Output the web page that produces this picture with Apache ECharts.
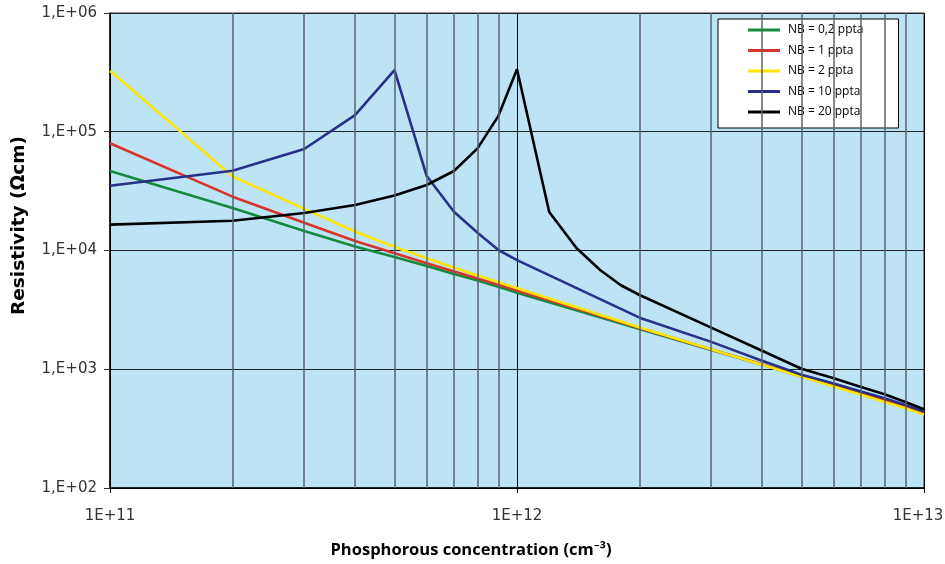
<!DOCTYPE html>
<html>
<head>
<meta charset="utf-8">
<script src="https://cdn.jsdelivr.net/npm/echarts@6/dist/echarts.min.js"></script>
<style>
html,body{margin:0;padding:0;background:#fff;}
#chart{width:945px;height:564px;}
</style>
</head>
<body>
<div id="chart"></div>
<script>
// Phosphorous concentration (cm-3)
const xStd = [1e11, 2e11, 3e11, 4e11, 5e11, 6e11, 7e11, 8e11, 9e11, 1e12,
              2e12, 3e12, 4e12, 5e12, 6e12, 7e12, 8e12, 9e12, 1e13];
const xBlack = [1e11, 2e11, 3e11, 4e11, 5e11, 6e11, 7e11, 8e11, 9e11, 1e12,
                1.2e12, 1.4e12, 1.6e12, 1.8e12,
                2e12, 3e12, 4e12, 5e12, 6e12, 7e12, 8e12, 9e12, 1e13];
const minorX = [2e11, 3e11, 4e11, 5e11, 6e11, 7e11, 8e11, 9e11,
                2e12, 3e12, 4e12, 5e12, 6e12, 7e12, 8e12, 9e12];

// Resistivity (Ohm cm)
const nb02 = [46700, 22800, 14600, 10800, 8800, 7400, 6350, 5600, 4950, 4400,
              2180, 1450, 1090, 870, 725, 625, 545, 485, 430];
const nb1  = [80000, 28400, 17100, 12000, 9500, 7800, 6650, 5800, 5150, 4600,
              2220, 1470, 1100, 875, 728, 625, 545, 485, 428];
const nb2  = [325000, 41900, 22400, 14400, 10700, 8600, 7150, 6150, 5400, 4800,
              2250, 1470, 1090, 865, 715, 610, 530, 470, 415];
const nb10 = [35100, 47000, 71600, 138000, 331000, 42400, 21200, 14100, 10100, 8300,
              2720, 1700, 1180, 900, 760, 650, 570, 500, 440];
const nb20 = [16500, 17800, 20700, 24200, 29000, 35600, 46700, 72500, 136000, 336000,
              21100, 10500, 6850, 5100, 4220,
              2240, 1430, 1010, 840, 710, 615, 530, 460];

const names = ['NB = 0,2 ppta', 'NB = 1 ppta', 'NB = 2 ppta', 'NB = 10 ppta', 'NB = 20 ppta'];
const colors = ['#138a3c', '#d9342b', '#ffe600', '#28318a', '#000000'];

function pairs(xs, ys) { return xs.map((x, i) => [x, ys[i]]); }
const seriesData = [pairs(xStd, nb02), pairs(xStd, nb1), pairs(xStd, nb2), pairs(xStd, nb10), pairs(xBlack, nb20)];

const font = 'Open Sans, Noto Sans, DejaVu Sans, sans-serif';
const wide = 'DejaVu Sans, Verdana, sans-serif';
const chart = echarts.init(document.getElementById('chart'));

const series = [{
  type: 'line',
  name: 'grid',
  data: [],
  z: 1,
  silent: true,
  markLine: {
    silent: true,
    symbol: ['none', 'none'],
    animation: false,
    label: {show: false},
    lineStyle: {color: '#56646e', width: 1.5, type: 'solid'},
    data: minorX.map(v => ({xAxis: v}))
  }
}];
names.forEach((n, i) => {
  series.push({
    type: 'line',
    name: n,
    data: seriesData[i],
    showSymbol: false,
    symbol: 'none',
    z: 3,
    color: colors[i],
    lineStyle: {color: colors[i], width: 2.6},
    animation: false
  });
});

chart.setOption({
  animation: false,
  textStyle: {fontFamily: font},
  grid: {
    left: 110, right: 21, top: 13, bottom: 76,
    outerBoundsMode: 'none',
    containLabel: false,
    show: true,
    backgroundColor: '#bde4f5',
    borderColor: '#333',
    borderWidth: 1
  },
  legend: {
    data: names,
    orient: 'vertical',
    left: 718,
    top: 19,
    padding: [5, 35, 10, 30],
    itemGap: 8.5,
    itemWidth: 32,
    itemHeight: 3,
    icon: 'rect',
    backgroundColor: '#ffffff',
    borderColor: '#000',
    borderWidth: 1,
    borderRadius: 0,
    textStyle: {fontFamily: font, fontSize: 12, color: '#000', padding: [0, 0, 0, 3]}
  },
  xAxis: {
    type: 'log',
    logBase: 10,
    min: 1e11,
    max: 1e13,
    name: 'Phosphorous concentration (cm⁻³)',
    nameLocation: 'middle',
    nameGap: 54,
    nameTextStyle: {fontFamily: font, fontSize: 16.5, fontWeight: 'bold', color: '#000', padding: [0, 92, 0, 0]},
    axisLine: {show: true, lineStyle: {color: '#000', width: 1.5}},
    axisTick: {show: true, length: 5, lineStyle: {color: '#000'}},
    axisLabel: {
      fontFamily: wide, fontSize: 15, color: '#333', margin: 21,
      formatter: v => {
        const e = Math.round(Math.log10(v));
        return e === 13 ? '{last|1E+' + e + '}' : '1E+' + e;
      },
      rich: {
        last: {fontFamily: wide, fontSize: 15, color: '#333', padding: [0, 12, 0, 0]}
      }
    },
    splitLine: {show: true, lineStyle: {color: '#000', width: 1}},
    minorTick: {show: false},
    minorSplitLine: {show: false}
  },
  yAxis: {
    type: 'log',
    logBase: 10,
    min: 100,
    max: 1e6,
    name: 'Resistivity (Ωcm)',
    nameLocation: 'middle',
    nameGap: 81,
    nameTextStyle: {fontFamily: wide, fontSize: 18.5, fontWeight: 'bold', color: '#000', padding: [0, 0, 0, 50]},
    axisLine: {show: true, lineStyle: {color: '#000', width: 1.5}},
    axisTick: {show: true, length: 6, lineStyle: {color: '#333'}},
    axisLabel: {
      fontFamily: wide, fontSize: 15, color: '#333', margin: 13,
      formatter: v => { const e = Math.round(Math.log10(v)); return '1,E+' + (e < 10 ? '0' + e : e); }
    },
    splitLine: {show: true, lineStyle: {color: '#222', width: 1}}
  },
  series: series
});
</script>
</body>
</html>
